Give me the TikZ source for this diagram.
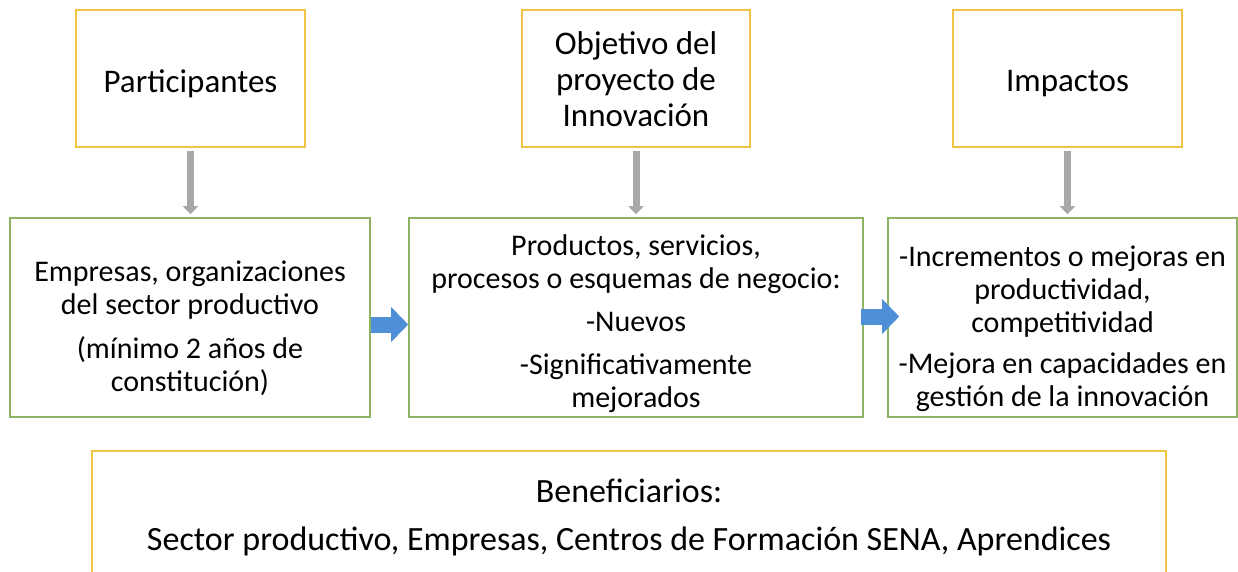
\documentclass[tikz,border=0pt]{standalone}
\usepackage{fontspec}
\setmainfont{Carlito}
\usetikzlibrary{arrows.meta}

\definecolor{oro}{HTML}{F2C443}
\definecolor{verde}{HTML}{8CB464}
\definecolor{azul}{HTML}{4F8FD8}
\definecolor{gris}{HTML}{A8A8A8}

\begin{document}
\begin{tikzpicture}[x=1pt,y=-1pt,
    cajaoro/.style={draw=oro, line width=1.6pt, inner sep=0pt, minimum height=137pt},
    cajaverde/.style={draw=verde, line width=1.6pt, inner sep=0pt, minimum height=199pt},
    textogrande/.style={align=center, inner sep=0pt, font=\fontsize{33}{36}\selectfont},
    texto/.style={align=center, inner sep=0pt, font=\fontsize{30}{33}\selectfont},
    flechagris/.style={draw=gris, line width=7pt, shorten <=3pt, shorten >=3pt,
        -{Triangle[width=15pt,length=8pt]}},
    flechaazul/.style={draw=azul, line width=16pt,
        -{Triangle[width=34pt,length=17pt]}}]

    \useasboundingbox (0,0) rectangle (1238,572);

    % Top boxes
    \node[cajaoro, minimum width=229pt] (par) at (190.5,78.5) {};
    \node[cajaoro, minimum width=228pt] (obj) at (636,78.5) {};
    \node[cajaoro, minimum width=229pt] (imp) at (1067.5,78.5) {};
    \node[textogrande] (part) at ([yshift=-5pt]par.center) {Participantes};
    \node[textogrande] (objt) at ([yshift=-1pt]obj.center) {Objetivo del\\ proyecto de\\ Innovación};
    \node[textogrande] (impt) at ([yshift=-5pt]imp.center) {Impactos};

    % Middle boxes
    \node[cajaverde, minimum width=360pt] (emp) at (190,317.5) {};
    \node[cajaverde, minimum width=454pt] (pro) at (636,317.5) {};
    \node[cajaverde, minimum width=349pt] (inc) at (1062.5,317.5) {};
    \node[texto] (empt) at ([yshift=-11pt]emp.center)
        {Empresas, organizaciones\\ del sector productivo\\[11pt] (mínimo 2 años de\\ constitución)};
    \node[texto] (prot) at ([yshift=-6pt]pro.center)
        {Productos, servicios,\\ procesos o esquemas de negocio:\\[10pt] -Nuevos\\[10pt] -Significativamente\\ mejorados};
    \node[texto] (inct) at ([yshift=-11pt]inc.center)
        {-Incrementos o mejoras en\\ productividad,\\ competitividad\\[8pt] -Mejora en capacidades en\\ gestión de la innovación};

    % Bottom box
    \node[cajaoro, minimum width=1074pt, minimum height=131pt] (ben) at (629,516.5) {};
    \node[texto, font=\fontsize{34}{37}\selectfont] (bent) at ([yshift=-0.5pt]ben.center)
        {Beneficiarios:\\[11pt] Sector productivo, Empresas, Centros de Formación SENA, Aprendices};

    % Arrows down
    \draw[flechagris] (par.south) -- (par.south |- emp.north);
    \draw[flechagris] (obj.south) -- (obj.south |- pro.north);
    \draw[flechagris] (imp.south) -- (imp.south |- inc.north);

    % Arrows to the right
    \draw[flechaazul] ([yshift=-7pt]emp.east) -- ([yshift=-7pt]pro.west);
    \draw[flechaazul] ([xshift=-3pt,yshift=1pt]pro.east) -- ([xshift=12pt,yshift=1pt]inc.west);

\end{tikzpicture}
\end{document}
